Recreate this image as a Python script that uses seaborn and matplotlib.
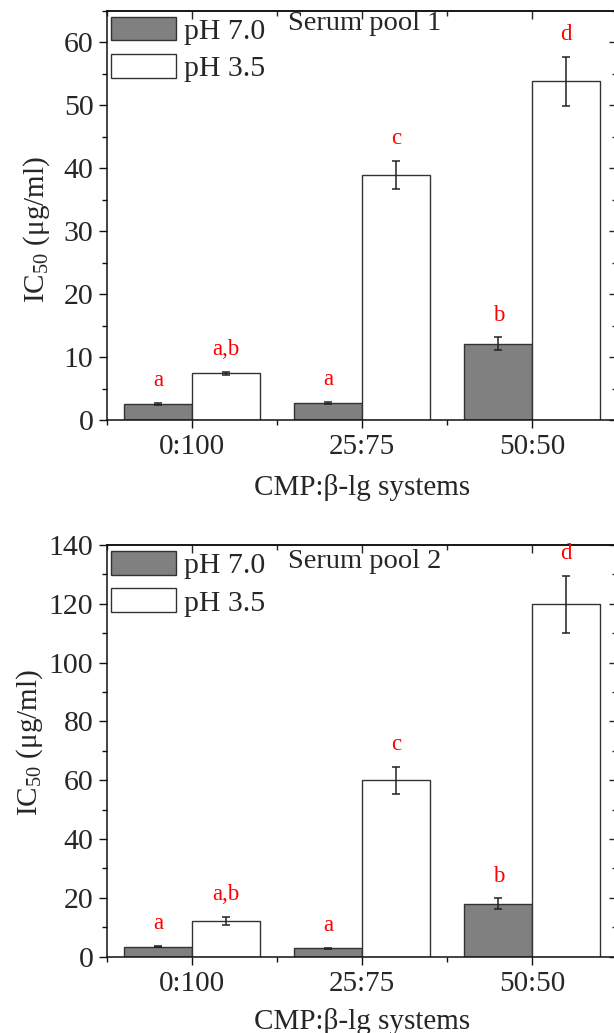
import matplotlib
matplotlib.use("Agg")
import matplotlib.pyplot as plt
from matplotlib.patches import Patch
from matplotlib.ticker import MultipleLocator, FixedLocator
import seaborn as sns
import pandas as pd

# ---------------- data ----------------
systems = ["0:100", "25:75", "50:50"]
ph_levels = ["pH 7.0", "pH 3.5"]

pool1_ph70 = [2.6, 2.75, 12.1]
pool1_ph70_sd = [0.15, 0.15, 1.0]
pool1_ph35 = [7.4, 38.85, 53.8]
pool1_ph35_sd = [0.2, 2.25, 3.9]
pool1_letters_ph70 = ["a", "a", "b"]
pool1_letters_ph35 = ["a,b", "c", "d"]

pool2_ph70 = [3.4, 2.9, 18.0]
pool2_ph70_sd = [0.2, 0.2, 1.8]
pool2_ph35 = [12.2, 60.0, 119.9]
pool2_ph35_sd = [1.4, 4.6, 9.7]
pool2_letters_ph70 = ["a", "a", "b"]
pool2_letters_ph35 = ["a,b", "c", "d"]

titles = ["Serum pool 1", "Serum pool 2"]
xlabel = "CMP:β-lg systems"
ylabel = "IC$_{50}$ (μg/ml)"

# ---------------- style ----------------
sns.set_theme(style="ticks")
plt.rcParams["font.family"] = ["Liberation Serif", "DejaVu Serif"]
plt.rcParams["mathtext.fontset"] = "custom"
plt.rcParams["mathtext.rm"] = "Liberation Serif"
plt.rcParams["mathtext.it"] = "Liberation Serif:italic"
plt.rcParams["mathtext.default"] = "rm"

colors = {"pH 7.0": "#808080", "pH 3.5": "#ffffff"}
edge = "#333333"

fig = plt.figure(figsize=(6.14, 10.33), dpi=100)
ax1 = fig.add_axes([0.1748, 0.5934, 0.8306, 0.3964])
ax2 = fig.add_axes([0.1748, 0.0739, 0.8306, 0.3985])

panels = [
    (ax1, pool1_ph70, pool1_ph70_sd, pool1_ph35, pool1_ph35_sd,
     pool1_letters_ph70, pool1_letters_ph35, (0, 65), 10, 5, titles[0], 0.9695,
     (-0.108, 0.466), 10),
    (ax2, pool2_ph70, pool2_ph70_sd, pool2_ph35, pool2_ph35_sd,
     pool2_letters_ph70, pool2_letters_ph35, (0, 140), 20, 10, titles[1], 0.9594,
     (-0.122, 0.521), 8),
]

for (ax, v70, s70, v35, s35, l70, l35, ylim, major, minor, title, ty, ylc, xlp) in panels:
    df = pd.DataFrame({
        "system": systems * 2,
        "pH": [ph_levels[0]] * 3 + [ph_levels[1]] * 3,
        "ic50": v70 + v35,
        "sd": s70 + s35,
        "letter": l70 + l35,
    })
    sns.barplot(data=df, x="system", y="ic50", hue="pH", order=systems,
                hue_order=ph_levels, palette=colors, edgecolor=edge,
                linewidth=1.0, errorbar=None, width=0.8, legend=False, ax=ax)

    for level, cont in zip(ph_levels, ax.containers):
        sub = df[df["pH"] == level].set_index("system").loc[systems]
        for bar, (_, row) in zip(cont, sub.iterrows()):
            xc = bar.get_x() + bar.get_width() / 2
            h = bar.get_height()
            ax.errorbar(xc, h, yerr=row["sd"], fmt="none", ecolor="#222222",
                        elinewidth=1.1, capsize=3, capthick=1.1, zorder=4)
            ax.annotate(row["letter"], (xc, h + row["sd"]),
                        xytext=(0, 16), textcoords="offset points",
                        ha="center", va="center", color="red", fontsize=16.5)

    ax.set_xlim(-0.5, 2.5)
    ax.set_ylim(*ylim)
    ax.yaxis.set_major_locator(MultipleLocator(major))
    ax.yaxis.set_minor_locator(MultipleLocator(minor))
    ax.xaxis.set_minor_locator(FixedLocator([-0.5, 0.5, 1.5, 2.5]))
    ax.tick_params(which="both", direction="out", width=1.0, color="#111111",
                   labelsize=21, pad=4)
    ax.tick_params(axis="y", labelsize=21.5)
    ax.tick_params(which="major", length=6)
    ax.tick_params(which="minor", length=3.5)
    for sp in ax.spines.values():
        sp.set_visible(True)
        sp.set_linewidth(1.1)
        sp.set_color("#111111")
    ax.set_xlabel(xlabel, fontsize=21, labelpad=xlp)
    ax.set_ylabel(ylabel, fontsize=21)
    ax.yaxis.set_label_coords(*ylc)

    secx = ax.secondary_xaxis("top")
    secx.set_xticks([0, 1, 2])
    secx.xaxis.set_minor_locator(FixedLocator([-0.5, 0.5, 1.5, 2.5]))
    secx.tick_params(which="both", direction="in", labeltop=False, width=1.0)
    secx.tick_params(which="major", length=6)
    secx.tick_params(which="minor", length=3.5)
    secy = ax.secondary_yaxis("right")
    secy.yaxis.set_major_locator(MultipleLocator(major))
    secy.yaxis.set_minor_locator(MultipleLocator(minor))
    secy.tick_params(which="both", direction="in", labelright=False, width=1.0)
    secy.tick_params(which="major", length=6)
    secy.tick_params(which="minor", length=3.5)

    handles = [Patch(facecolor=colors[l], edgecolor=edge, linewidth=1.0, label=l)
               for l in ph_levels]
    ax.legend(handles=handles, loc="upper left", bbox_to_anchor=(0.008, 0.985),
              frameon=False, borderpad=0, borderaxespad=0, fontsize=21.5,
              handlelength=2.17, handleheight=0.85, handletextpad=0.25,
              labelspacing=0.3)

    ax.text(0.3537, ty, title, transform=ax.transAxes, fontsize=20.5,
            ha="left", va="center")

fig.savefig("out.png", dpi=100)
